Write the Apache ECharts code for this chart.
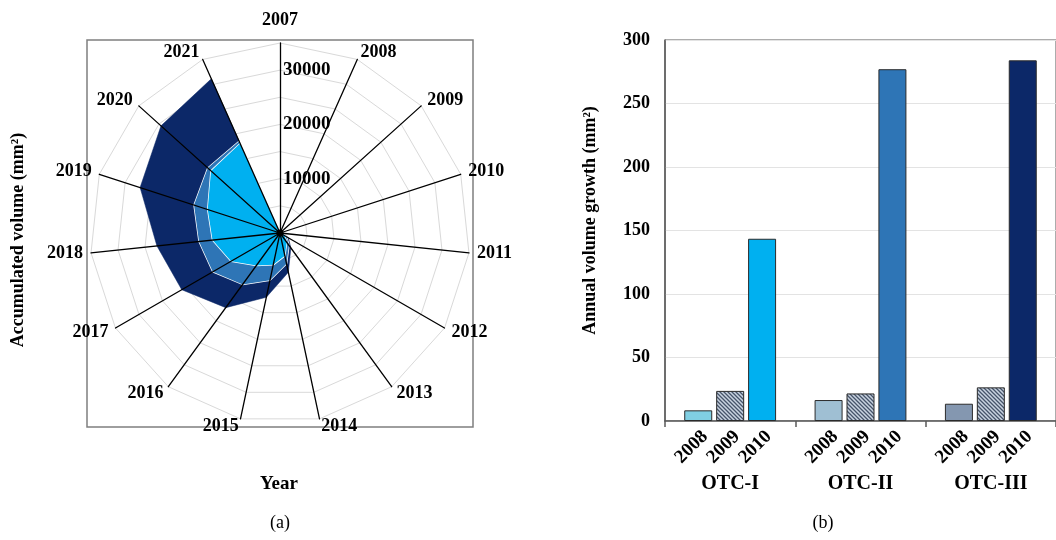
<!DOCTYPE html>
<html>
<head>
<meta charset="utf-8">
<script src="https://cdn.jsdelivr.net/npm/echarts@6/dist/echarts.min.js"></script>
<style>
  html, body { margin: 0; padding: 0; background: #fff; }
  #chart { width: 1056px; height: 540px; }
</style>
</head>
<body>
<div id="chart"></div>
<script>
// ---- (a) accumulated volume per year, radar ----
const years = ['2007', '2008', '2009', '2010', '2011', '2012', '2013', '2014',
               '2015', '2016', '2017', '2018', '2019', '2020', '2021'];
const otc1Accumulated = [0, 50, 100, 200, 400, 1000, 2100, 4300, 6000, 7400, 10400, 12500, 14000, 17100, 18050];
const otc2Accumulated = [0, 80, 150, 300, 500, 1400, 2800, 5800, 8900, 11700, 14300, 15000, 16650, 17900, 18500];
const otc3Accumulated = [0, 100, 200, 350, 600, 1800, 3400, 7400, 12100, 17000, 20900, 22800, 27100, 29500, 31100];
const radialMax = 35000;
const radialSplits = 7;
const radialLabelStep = 10000;

// ---- (b) annual volume growth, grouped bars ----
const groups = ['OTC-I', 'OTC-II', 'OTC-III'];
const growthYears = ['2008', '2009', '2010'];
const growth2008 = [8.4, 16.5, 13.6];
const growth2009 = [23.7, 21.7, 26.5];
const growth2010 = [143.5, 277, 284];
const growthMax = 300;
const growthStep = 50;

const serif = "'Liberation Serif', 'Times New Roman', serif";
const colors2008 = ['#80cfe3', '#9fbfd3', '#8497b0'];
const colors2010 = ['#00b0f0', '#2e75b6', '#0c2868'];

// diagonal hatch used for the 2009 bars
function hatch() {
  const c = document.createElement('canvas');
  c.width = 4; c.height = 4;
  const g = c.getContext('2d');
  g.fillStyle = '#c9d3e0';
  g.fillRect(0, 0, 4, 4);
  g.strokeStyle = '#46546a';
  g.lineWidth = 1.3;
  g.beginPath();
  g.moveTo(-1, -1); g.lineTo(5, 5);
  g.moveTo(-1, 3); g.lineTo(1, 5);
  g.moveTo(3, -1); g.lineTo(5, 1);
  g.stroke();
  return { image: c, repeat: 'repeat' };
}
const hatchFill = hatch();

// radar axes run counter-clockwise, so keep the first year on top and reverse the rest
const order = [0].concat(years.map((_, i) => i).slice(1).reverse());
const pick = arr => order.map(i => arr[i]);

const radialLabel = {
  show: true,
  color: '#000',
  fontFamily: serif,
  fontWeight: 'bold',
  fontSize: 19,
  align: 'left',
  margin: -3,
  formatter: v => (v > 0 && v % radialLabelStep === 0) ? String(v) : ''
};

function indicators(withLabels) {
  return order.map(i => {
    const ind = { name: years[i], max: radialMax, min: 0 };
    if (withLabels && i === 0) {
      ind.axisLabel = radialLabel;
      ind.nameGap = 14;
    }
    return ind;
  });
}

const radarCommon = {
  center: [280, 233],
  radius: 190,
  startAngle: 90,
  splitNumber: radialSplits,
  shape: 'polygon',
  splitArea: { show: false }
};

const chart = echarts.init(document.getElementById('chart'), null, { renderer: 'canvas' });

const option = {
  backgroundColor: '#ffffff',
  animation: false,
  radar: [
    Object.assign({}, radarCommon, {
      z: 1,
      indicator: indicators(false),
      axisName: { show: false },
      axisLine: { show: false },
      axisTick: { show: false },
      axisLabel: { show: false },
      splitLine: { lineStyle: { color: '#d9d9d9', width: 1 } }
    }),
    Object.assign({}, radarCommon, {
      z: 5,
      indicator: indicators(true),
      nameGap: 8,
      axisName: { color: '#000', fontFamily: serif, fontWeight: 'bold', fontSize: 18 },
      axisLine: { lineStyle: { color: '#000', width: 1.3 } },
      axisTick: { show: false },
      axisLabel: { show: false },
      splitLine: { show: false }
    })
  ],
  grid: {
    left: 665, top: 40, width: 399, height: 381,
    show: true, borderColor: '#595959', borderWidth: 1, backgroundColor: 'transparent'
  },
  xAxis: {
    type: 'category',
    data: groups,
    axisLine: { lineStyle: { color: '#595959', width: 1.5 } },
    axisTick: { show: true, length: 6, lineStyle: { color: '#595959', width: 1.5 } },
    axisLabel: { margin: 53, color: '#000', fontFamily: serif, fontWeight: 'bold', fontSize: 20 }
  },
  yAxis: {
    type: 'value',
    min: 0, max: growthMax, interval: growthStep,
    name: 'Annual volume growth (mm²)',
    nameLocation: 'middle',
    nameRotate: 90,
    nameGap: 66,
    nameTextStyle: { color: '#000', fontFamily: serif, fontWeight: 'bold', fontSize: 18, padding: [0, 0, 0, 20] },
    axisLine: { show: true, lineStyle: { color: '#595959', width: 1.5 } },
    axisTick: { show: false },
    axisLabel: { margin: 15, color: '#000', fontFamily: serif, fontWeight: 'bold', fontSize: 18 },
    splitLine: { lineStyle: { color: '#e3e3e3', width: 1 } }
  },
  series: [
    {
      type: 'radar', radarIndex: 0, z: 2, symbol: 'none',
      data: [
        { name: 'OTC-III', value: pick(otc3Accumulated),
          lineStyle: { width: 0.5, color: '#0c2868' },
          areaStyle: { color: '#0c2868', opacity: 1 } },
        { name: 'OTC-II', value: pick(otc2Accumulated),
          lineStyle: { width: 1.5, color: '#ffffff' },
          areaStyle: { color: '#2e75b6', opacity: 1 } },
        { name: 'OTC-I', value: pick(otc1Accumulated),
          lineStyle: { width: 1.5, color: '#ffffff' },
          areaStyle: { color: '#00b0f0', opacity: 1 } }
      ]
    }
  ].concat([growth2008, growth2009, growth2010].map((vals, k) => ({
    type: 'bar',
    name: growthYears[k],
    barWidth: 28,
    barGap: '14%',
    data: vals.map((v, g) => ({
      value: v,
      itemStyle: {
        color: k === 0 ? colors2008[g] : (k === 1 ? hatchFill : colors2010[g]),
        borderColor: '#2b2b2b',
        borderWidth: 1
      }
    })),
    label: {
      show: true,
      position: 'bottom',
      distance: 6,
      offset: [0, 9.5],
      rotate: 45,
      align: 'right',
      verticalAlign: 'middle',
      formatter: '{a}',
      color: '#000',
      fontFamily: serif,
      fontWeight: 'bold',
      fontSize: 19
    }
  }))),
  graphic: [
    { type: 'rect', z: 0, silent: true,
      shape: { x: 87, y: 40, width: 386, height: 387 },
      style: { fill: 'none', stroke: '#7f7f7f', lineWidth: 1.5 } },
    // hub where the spokes meet
    { type: 'circle', z: 20, silent: true,
      shape: { cx: 280, cy: 233, r: 3.5 },
      style: { fill: '#000' } },
    { type: 'text', x: 18, y: 240, rotation: Math.PI / 2,
      style: { text: 'Accumulated volume (mm²)', fill: '#000', font: 'bold 18px ' + serif,
               textAlign: 'center', textVerticalAlign: 'middle' } },
    { type: 'text', x: 279, y: 484,
      style: { text: 'Year', fill: '#000', font: 'bold 19px ' + serif,
               textAlign: 'center', textVerticalAlign: 'middle' } },
    { type: 'text', x: 280, y: 523,
      style: { text: '(a)', fill: '#000', font: '18px ' + serif,
               textAlign: 'center', textVerticalAlign: 'middle' } },
    { type: 'text', x: 823, y: 523,
      style: { text: '(b)', fill: '#000', font: '18px ' + serif,
               textAlign: 'center', textVerticalAlign: 'middle' } }
  ]
};

chart.setOption(option);
</script>
</body>
</html>
